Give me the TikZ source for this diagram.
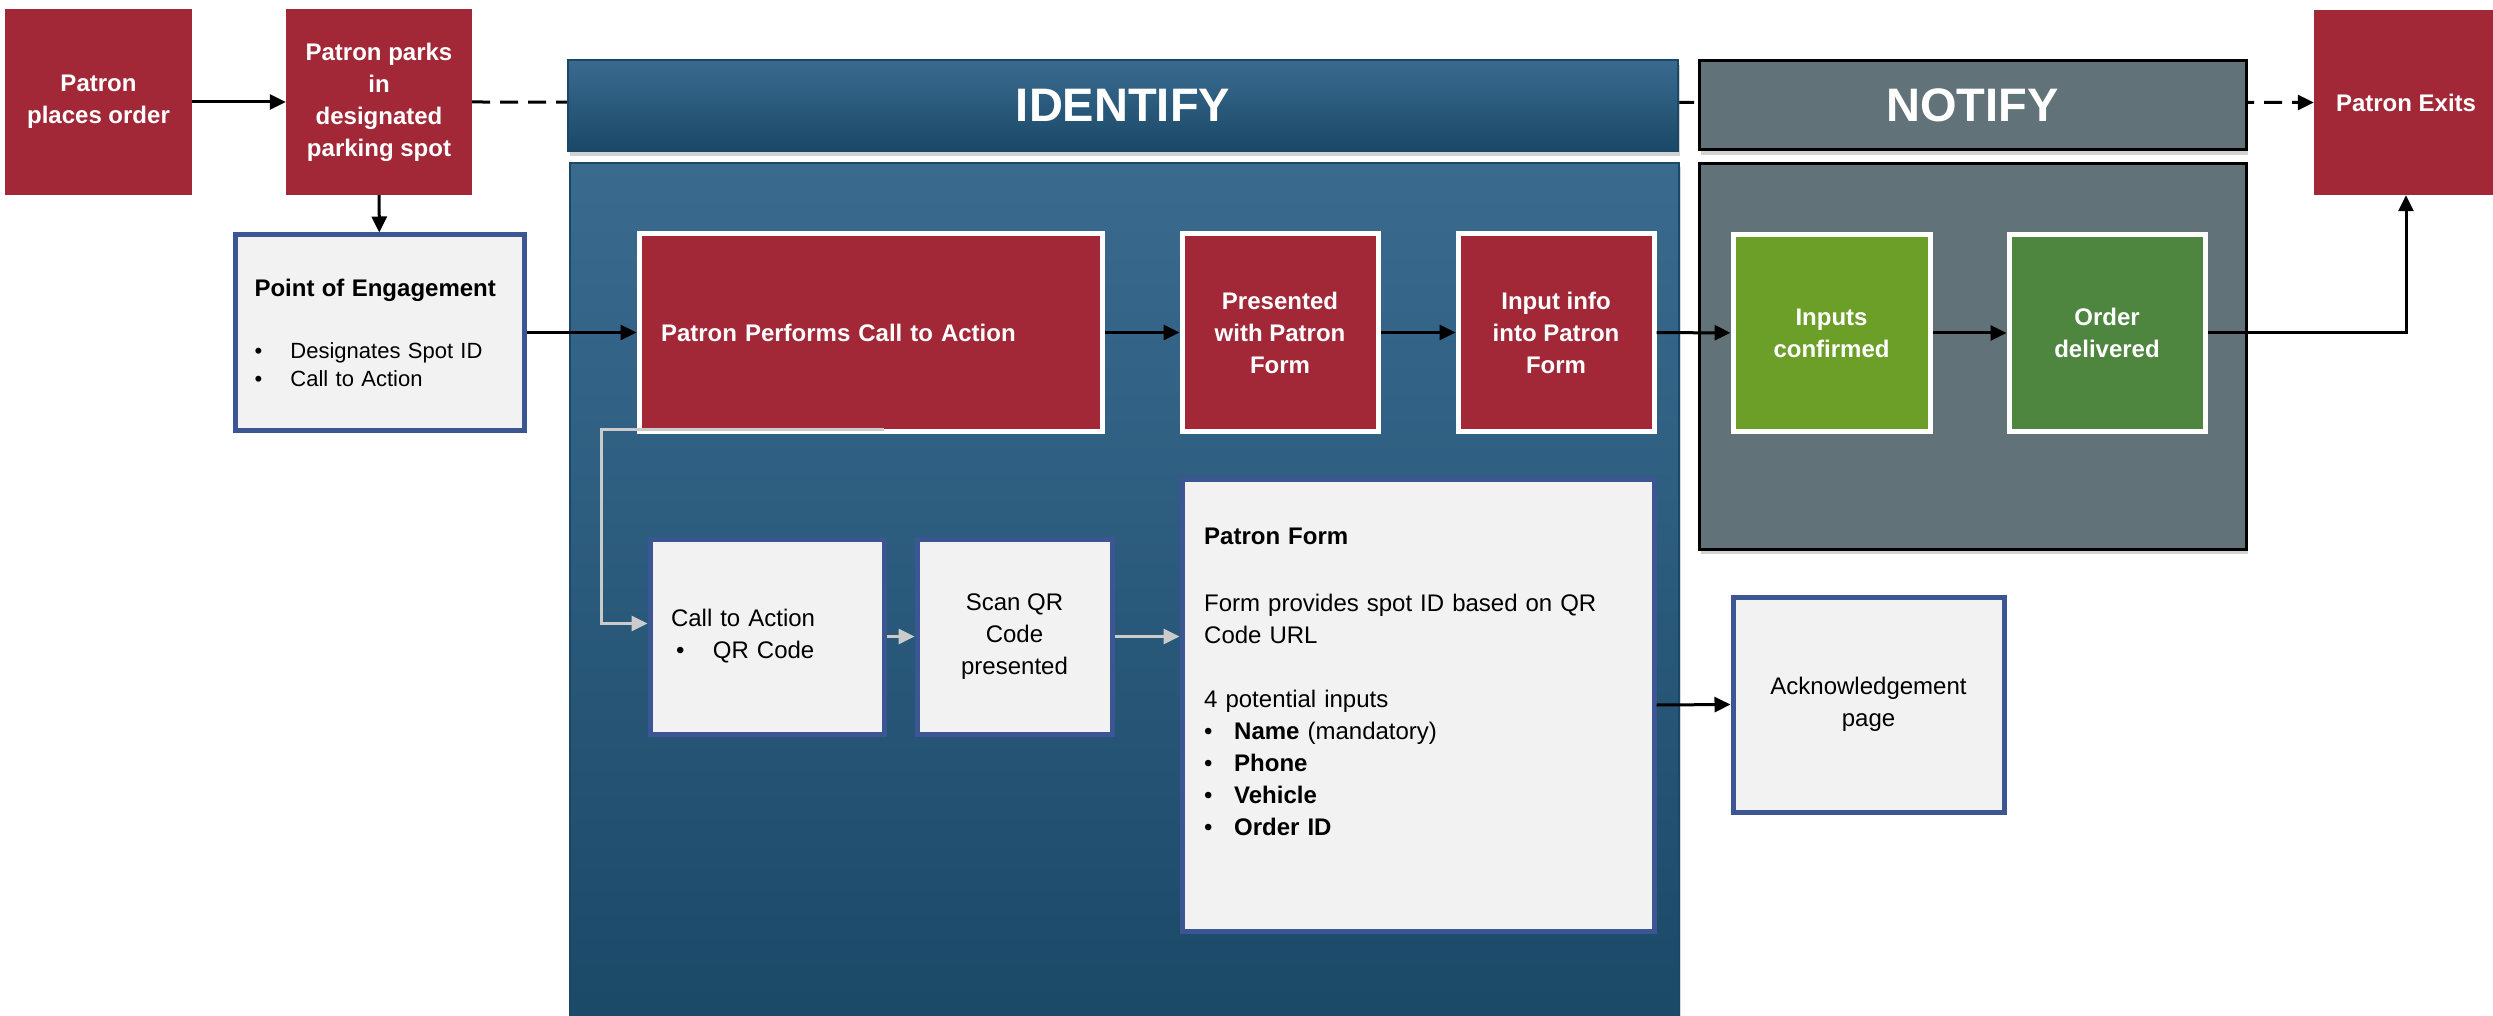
\documentclass[tikz,border=0pt]{standalone}
\usepackage{fontspec}
\setmainfont{Liberation Sans}
\usetikzlibrary{arrows.meta,shadows}
\tikzset{>={Triangle[length=16pt,width=15pt]}}
\definecolor{patronred}{HTML}{A22838}
\definecolor{idtop}{HTML}{3A6B8F}
\definecolor{idbot}{HTML}{1A4867}
\definecolor{notifygray}{HTML}{617278}
\definecolor{boxblue}{HTML}{3C5694}
\definecolor{boxfill}{HTML}{F2F2F2}
\definecolor{okgreen}{HTML}{6C9F28}
\definecolor{dkgreen}{HTML}{4E8640}
\definecolor{ctagray}{HTML}{CBCBCB}
\tikzset{
  redbox/.style={fill=patronred, text=white, align=center, inner sep=0pt,
    font=\fontsize{24}{32}\selectfont\bfseries},
  innerred/.style={redbox, draw=white, line width=5pt},
  greenbox/.style={innerred, fill=#1},
  greybox/.style={fill=boxfill, draw=boxblue, line width=5pt, inner sep=0pt,
    font=\fontsize{24}{32}\selectfont},
  header/.style={text=white, font=\fontsize{47}{50}\selectfont\bfseries,
    drop shadow={opacity=.35, shadow xshift=2pt, shadow yshift=-5pt}},
  flow/.style={line width=3pt, ->},
  ctaflow/.style={line width=3pt, draw=ctagray, ->},
}
\newcommand{\bitem}[2][36pt]{\makebox[#1][l]{\textbullet}#2}
\pgfdeclarelayer{back}
\pgfsetlayers{back,main}

\begin{document}
\begin{tikzpicture}[x=1pt, y=-1pt]
  \useasboundingbox (0,0) rectangle (2493,1016);
  \begin{pgfonlayer}{back}
    \fill[white] (0,0) rectangle (2493,1016);
  \end{pgfonlayer}

  \node[top color=idtop, bottom color=idbot, draw=idbot, line width=1.5pt,
    minimum width=1109, minimum height=870, drop shadow={opacity=.3, shadow xshift=2pt, shadow yshift=-4pt}]
    (idpanel) at (1124.5,598) {};
  \node[header, top color=idtop, bottom color=idbot, draw=idbot, line width=1.5pt,
    minimum width=1110, minimum height=91] (identify) at (1123,105.5) {IDENTIFY};
  \node[header, fill=notifygray, draw=black, line width=3pt,
    minimum width=547, minimum height=89] (notify) at (1972.5,105.5) {NOTIFY};
  \node[fill=notifygray, draw=black, line width=3pt, minimum width=547, minimum height=385,
    drop shadow={opacity=.35, shadow xshift=2pt, shadow yshift=-5pt}]
    (notifypanel) at (1972.5,356.5) {};

  \node[redbox, minimum width=187, minimum height=186] (places) at (98.5,102) {Patron\\places order};
  \node[redbox, minimum width=186, minimum height=186] (parks) at (379,102) {Patron parks\\in\\designated\\parking spot};
  \node[redbox, minimum width=184, minimum height=185] (exits) at (2406,102.5) {Patron Exits};

  \node[greybox, minimum height=195, text width=250, inner xsep=19.5pt, align=left,
    font=\fontsize{22}{28}\selectfont] (poe) at (379.5,332.5)
    {{\fontsize{24}{28}\selectfont\bfseries Point of Engagement}\\[34pt]
     \bitem{Designates Spot ID}\\
     \bitem{Call to Action}};

  \node[innerred, minimum height=197, text width=419, inner xsep=22pt, align=left]
    (performs) at (870.5,332.5) {Patron Performs Call to Action};
  \node[innerred, minimum width=196, minimum height=197] (presented) at (1280,332.5) {Presented\\with Patron\\Form};
  \node[innerred, minimum width=196, minimum height=197] (inputinfo) at (1556,332.5) {Input info\\into Patron\\Form};
  \node[greenbox=okgreen, minimum width=197, minimum height=196] (confirmed) at (1831.5,333) {Inputs\\confirmed};
  \node[greenbox=dkgreen, minimum width=196, minimum height=196] (delivered) at (2107,333) {Order\\delivered};

  \node[greybox, minimum height=195, text width=192, inner xsep=21pt, align=left]
    (callto) at (767,636.5) {Call to Action\\\hspace*{5pt}\bitem[37pt]{QR Code}};
  \node[greybox, minimum width=195, minimum height=195, align=center]
    (scan) at (1014.5,636.5) {Scan QR\\Code\\presented};
  \node[greybox, minimum width=472, minimum height=452] (form) at (1418,705) {};
  \node[anchor=north west, inner sep=0pt, text width=425, align=left,
    font=\fontsize{24}{32}\selectfont] (formtext) at (1204,528)
    {{\bfseries Patron Form}\\[35pt]
     Form provides spot ID based on QR\\
     Code URL\\[32pt]
     4 potential inputs\\
     \bitem[30pt]{\textbf{Name} (mandatory)}\\
     \bitem[30pt]{\textbf{Phone}}\\
     \bitem[30pt]{\textbf{Vehicle}}\\
     \bitem[30pt]{\textbf{Order ID}}};
  \node[greybox, minimum width=271, minimum height=215, align=center]
    (ack) at (1868.5,704.5) {Acknowledgement\\page};

  \begin{pgfonlayer}{back}
    \draw[flow, dash pattern=on 18pt off 10pt] (parks.east) -- (exits.west);
  \end{pgfonlayer}
  \draw[flow] (places) -- (parks);
  \draw[flow] (parks) -- (poe);
  \draw[flow] (poe) -- (performs);
  \draw[flow] (performs) -- (presented);
  \draw[flow] (presented) -- (inputinfo);
  \draw[flow] (inputinfo) -- (confirmed);
  \draw[flow] (confirmed) -- (delivered);
  \draw[flow] (delivered.east) -| (exits.south);
  \draw[flow] (form.east) -- (ack.west);

  \coordinate (ctastart) at (884,429);
  \coordinate (ctaturn) at (601,429);
  \draw[ctaflow] (ctastart) -- (ctaturn) |- ([yshift=13pt]callto.west);
  \draw[ctaflow] (callto) -- (scan);
  \draw[ctaflow] (scan.east) -- (scan.east -| form.west);
\end{tikzpicture}
\end{document}
